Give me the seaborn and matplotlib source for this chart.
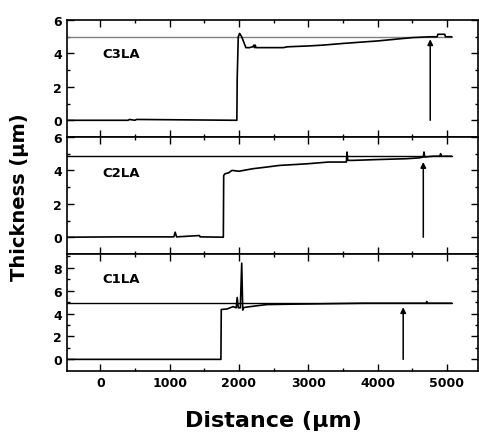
import numpy as np
import matplotlib
matplotlib.use("Agg")
import matplotlib.pyplot as plt
import seaborn as sns

# profile data (distance in um, thickness in um)
c3_x = [-500, 400, 420, 500, 520, 1970, 1975, 1990, 2010, 2040, 2100, 2150, 2200, 2215, 2225, 2235,
        2245, 2400, 2640, 2700, 3000, 3210, 3500, 4000, 4500, 4760, 4860, 4870, 4970, 4980, 5070]
c3_y = [0, 0, 0.05, 0, 0.05, 0, 2.5, 5.0, 5.2, 5.0, 4.35, 4.35, 4.4, 4.5, 4.35, 4.5,
        4.35, 4.35, 4.35, 4.4, 4.45, 4.5, 4.6, 4.75, 4.95, 5.0, 5.0, 5.15, 5.15, 5.0, 5.0]

c2_x = [-500, 250, 1060, 1080, 1100, 1430, 1440, 1775, 1780, 1800, 1850, 1900, 2000, 2200, 2400,
        2590, 2800, 3000, 3290, 3550, 3560, 3570, 3650, 4000, 4420, 4600, 4660, 4670, 4680, 4800,
        4900, 4910, 4920, 5070]
c2_y = [0, 0.02, 0.02, 0.3, 0.02, 0.1, 0.02, 0, 3.7, 3.8, 3.85, 4.0, 3.95, 4.1, 4.2,
        4.3, 4.35, 4.4, 4.5, 4.5, 5.1, 4.6, 4.6, 4.65, 4.7, 4.75, 4.8, 5.1, 4.8, 4.85,
        4.85, 5.0, 4.85, 4.85]

c1_x = [-500, 1740, 1745, 1830, 1915, 1960, 1975, 1990, 2020, 2040, 2055, 2060, 2100, 2160,
        2400, 2800, 3200, 3800, 4200, 4600, 4700, 4710, 4720, 5070]
c1_y = [0, 0, 4.35, 4.4, 4.6, 4.5, 5.4, 4.5, 4.5, 8.4, 4.3, 4.5, 4.55, 4.6,
        4.78, 4.82, 4.85, 4.9, 4.9, 4.9, 4.9, 5.05, 4.9, 4.9]

samples = ["C3LA", "C2LA", "C1LA"]
profiles_x = [c3_x, c2_x, c1_x]
profiles_y = [c3_y, c2_y, c1_y]
ref_level = [5.0, 4.84, 4.95]
ref_color = ["gray", "black", "black"]
arrow_x = [4760, 4660, 4370]
arrow_top = [4.85, 4.5, 4.55]
y_limits = [(-1, 6), (-1, 6), (-1, 9.2)]
y_major = [[0, 2, 4, 6], [0, 2, 4, 6], [0, 2, 4, 6, 8]]
x_major = [0, 1000, 2000, 3000, 4000, 5000]
label_y = [0.71, 0.70, 0.79]

sns.set_style("ticks")
plt.rcParams['font.family'] = ['DejaVu Sans']
plt.rcParams['font.weight'] = 'bold'
plt.rcParams['text.color'] = 'black'
plt.rcParams['xtick.color'] = 'black'
plt.rcParams['ytick.color'] = 'black'

fig, axes = plt.subplots(3, 1, figsize=(4.79, 4.39), dpi=100, sharex=True)
fig.subplots_adjust(left=0.14, right=0.998, top=0.952, bottom=0.153, hspace=0)

for i, ax in enumerate(axes):
    ax.plot([-500, 5070], [ref_level[i], ref_level[i]], color=ref_color[i], lw=1)
    sns.lineplot(x=profiles_x[i], y=profiles_y[i], ax=ax, color="black", lw=1.2,
                 sort=False, estimator=None)
    ax.annotate("", xy=(arrow_x[i], arrow_top[i]), xytext=(arrow_x[i], 0),
                arrowprops=dict(arrowstyle="-|>", color="black", lw=1.1,
                                mutation_scale=8, shrinkA=0, shrinkB=0))
    ax.text(0.085, label_y[i], samples[i], transform=ax.transAxes, fontsize=9.5,
            fontweight="bold", va="center", color="black")
    ax.set_xlim(-480, 5450)
    ax.set_ylim(*y_limits[i])
    ax.set_yticks(y_major[i])
    ax.set_yticks(np.arange(1, y_limits[i][1], 2), minor=True)
    ax.set_xticks(x_major)
    ax.set_xticks([500, 1500, 2500, 3500, 4500], minor=True)
    ax.tick_params(which="both", direction="in", top=True, right=True, width=1)
    ax.tick_params(which="major", length=5, labelsize=9)
    ax.tick_params(which="minor", length=2.5)
    for lab in ax.get_yticklabels() + ax.get_xticklabels():
        lab.set_fontweight("bold")
    for s in ax.spines.values():
        s.set_linewidth(1.2)
        s.set_color("black")

fig.text(0.04, 0.55, "Thickness (μm)", rotation=90, fontsize=14,
         fontweight="bold", ha="center", va="center", color="black")
fig.text(0.57, 0.04, "Distance (μm)", fontsize=16, fontweight="bold",
         ha="center", va="center", color="black")

fig.savefig("out.png", dpi=100)
